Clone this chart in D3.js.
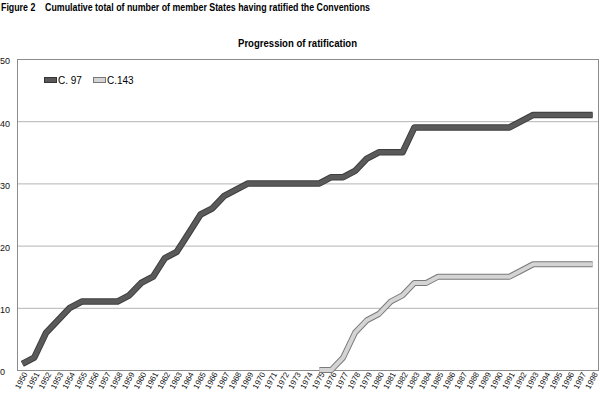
<!DOCTYPE html>
<html>
<head>
<meta charset="utf-8">
<script src="https://cdn.jsdelivr.net/npm/d3@7"></script>
<style>
  body { margin: 0; background: #fff; }
  svg { font-family: "Liberation Sans Narrow", "Liberation Sans", Arial, sans-serif; }
  .grid line { stroke: #b4b4b4; stroke-width: 1; }
  .tick text { fill: #111; }
</style>
</head>
<body>
<div id="vis"></div>
<script>
var years = d3.range(1950, 1999);
var c97 = [1, 2, 6, 8, 10, 11, 11, 11, 11, 12, 14, 15, 18, 19, 22, 25, 26, 28, 29, 30,
           30, 30, 30, 30, 30, 30, 31, 31, 32, 34, 35, 35, 35, 39, 39, 39, 39, 39, 39, 39,
           39, 39, 40, 41, 41, 41, 41, 41, 41];
var c143Years = d3.range(1975, 1999);
var c143 = [0, 0, 2, 6, 8, 9, 11, 12, 14, 14, 15, 15, 15, 15, 15, 15, 15, 16, 17, 17,
            17, 17, 17, 17];
var yTicks = [0, 10, 20, 30, 40, 50];
var seriesNames = ["C. 97", "C.143"];

var w = 600, h = 397,
    plotLeft = 17, plotRight = 598, plotTop = 59, plotBottom = 370;

var svg = d3.select("#vis").append("svg")
    .attr("width", w)
    .attr("height", h);

var x = d3.scalePoint().domain(years).range([plotLeft, plotRight]).padding(0.45);
var y = d3.scaleLinear().domain([0, 50]).range([plotBottom, plotTop]);

// titles
svg.append("text")
    .attr("x", 1).attr("y", 11)
    .attr("font-size", 10).attr("font-weight", "bold")
    .attr("xml:space", "preserve")
    .attr("textLength", 369).attr("lengthAdjust", "spacingAndGlyphs")
    .text("Figure 2    Cumulative total of number of member States having ratified the Conventions");

svg.append("text")
    .attr("x", 238).attr("y", 47)
    .attr("font-size", 10).attr("font-weight", "bold")
    .attr("textLength", 119).attr("lengthAdjust", "spacingAndGlyphs")
    .text("Progression of ratification");

// gridlines
svg.append("g").attr("class", "grid")
    .selectAll("line")
    .data(yTicks.filter(function(d) { return d > 0 && d < 50; }))
    .enter().append("line")
    .attr("x1", plotLeft).attr("x2", plotRight)
    .attr("y1", function(d) { return y(d) + 0.5; })
    .attr("y2", function(d) { return y(d) + 0.5; });

// frame
svg.append("rect")
    .attr("x", plotLeft + 0.5).attr("y", plotTop + 0.5)
    .attr("width", plotRight - plotLeft).attr("height", plotBottom - plotTop)
    .attr("fill", "none").attr("stroke", "#8c8c8c").attr("stroke-width", 1);

// y labels
var yAxis = svg.append("g")
    .call(d3.axisLeft(y).tickValues(yTicks).tickSize(0).tickPadding(0));
yAxis.select(".domain").remove();
yAxis.selectAll("text")
    .attr("x", 0).attr("y", 2).attr("text-anchor", "start")
    .attr("font-size", 9).attr("font-family", "Liberation Sans, Arial, sans-serif");

// x labels
var xAxis = svg.append("g")
    .attr("transform", "translate(0," + plotBottom + ")")
    .call(d3.axisBottom(x).tickSize(0));
xAxis.select(".domain").remove();
xAxis.selectAll("text")
    .attr("font-size", 8).attr("font-family", "Liberation Sans, Arial, sans-serif")
    .attr("text-anchor", "end")
    .attr("dy", 0)
    .attr("y", 0)
    .attr("transform", "translate(5,4) rotate(-62)");

var line = d3.line()
    .x(function(d) { return x(d[0]); })
    .y(function(d) { return y(d[1]); });

var d97 = years.map(function(yr, i) { return [yr, c97[i]]; });
var d143 = c143Years.map(function(yr, i) { return [yr, c143[i]]; });

// C.143 line: grey outline, light fill
svg.append("path").datum(d143)
    .attr("d", line).attr("fill", "none")
    .attr("stroke", "#7a7a7a").attr("stroke-width", 6)
    .attr("stroke-linejoin", "round");
svg.append("path").datum(d143)
    .attr("d", line).attr("fill", "none")
    .attr("stroke", "#d4d4d4").attr("stroke-width", 4)
    .attr("stroke-linejoin", "round");

// C. 97 line
svg.append("path").datum(d97)
    .attr("d", line).attr("fill", "none")
    .attr("stroke", "#3e3e3e").attr("stroke-width", 6.5)
    .attr("stroke-linejoin", "round");
svg.append("path").datum(d97)
    .attr("d", line).attr("fill", "none")
    .attr("stroke", "#5a5a5a").attr("stroke-width", 4.5)
    .attr("stroke-linejoin", "round");

// legend
var legend = svg.append("g").attr("transform", "translate(44,77)");
var swatchFill = ["#595959", "#d4d4d4"], swatchStroke = ["#333", "#777"], offs = [0, 49];
seriesNames.forEach(function(name, i) {
    legend.append("rect")
        .attr("x", offs[i] + 0.5).attr("y", 0.5)
        .attr("width", 12).attr("height", 5)
        .attr("fill", swatchFill[i]).attr("stroke", swatchStroke[i]);
    legend.append("text")
        .attr("x", offs[i] + 14).attr("y", 7)
        .attr("font-size", 10).attr("font-family", "Liberation Sans, Arial, sans-serif")
        .text(name);
});
</script>
</body>
</html>
